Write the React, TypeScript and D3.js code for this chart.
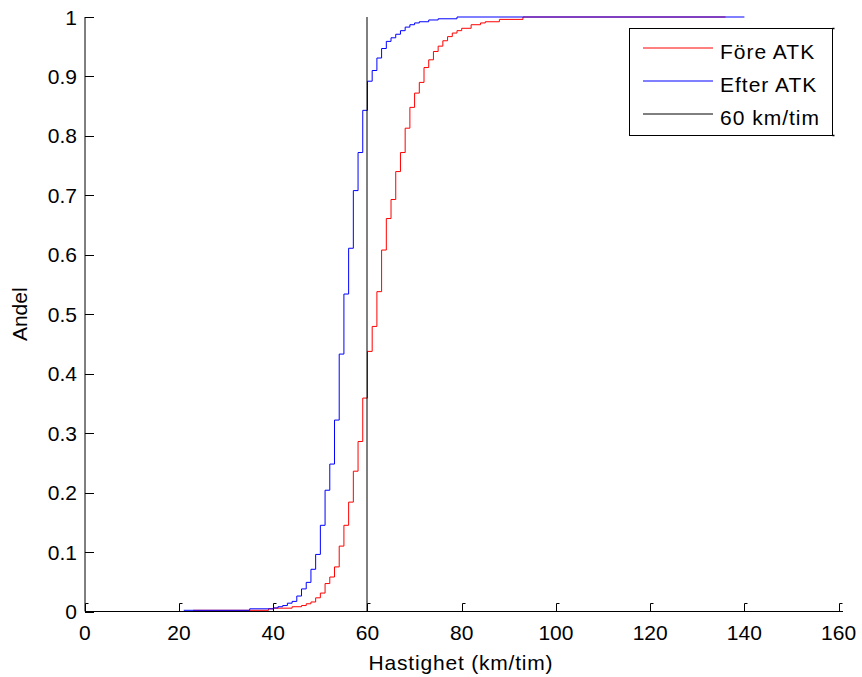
import React from 'react';
import * as d3 from 'd3';

const W = 862;
const H = 677;

const xTicks = [0, 20, 40, 60, 80, 100, 120, 140, 160];
const yTicks = [0, 0.1, 0.2, 0.3, 0.4, 0.5, 0.6, 0.7, 0.8, 0.9, 1];
const yTickLabels = ['0', '0.1', '0.2', '0.3', '0.4', '0.5', '0.6', '0.7', '0.8', '0.9', '1'];

// Före ATK (red) – cumulative share at each speed step
const foreSpeeds = [23, 39, 40, 44, 46, 47, 48, 49, 50, 51, 52, 53, 54, 55, 56, 57, 58, 59, 60, 61, 62, 63, 64, 65, 66, 67, 68, 69, 70, 71, 72, 73, 74, 75, 76, 77, 78, 79, 80, 82, 84, 85, 88, 93, 136];
const foreShare = [0.002, 0.0045, 0.0056, 0.008, 0.010, 0.013, 0.016, 0.023, 0.031, 0.047, 0.058, 0.075, 0.110, 0.145, 0.184, 0.236, 0.286, 0.359, 0.4375, 0.4795, 0.538, 0.608, 0.661, 0.693, 0.740, 0.772, 0.813, 0.848, 0.872, 0.890, 0.915, 0.928, 0.942, 0.951, 0.960, 0.967, 0.973, 0.977, 0.981, 0.987, 0.990, 0.992, 0.996, 1.0, 1.0];

// Efter ATK (blue)
const efterSpeeds = [21, 35, 40, 41, 42, 43, 44, 45, 46, 47, 48, 49, 50, 51, 52, 53, 54, 55, 56, 57, 58, 59, 60, 61, 62, 63, 64, 65, 66, 67, 68, 69, 70, 71, 73, 75, 79, 140];
const efterShare = [0.002, 0.0045, 0.006, 0.008, 0.010, 0.014, 0.017, 0.026, 0.038, 0.049, 0.071, 0.096, 0.145, 0.204, 0.248, 0.322, 0.433, 0.534, 0.611, 0.708, 0.772, 0.843, 0.892, 0.910, 0.931, 0.947, 0.959, 0.965, 0.971, 0.977, 0.983, 0.987, 0.990, 0.992, 0.995, 0.997, 1.0, 1.0];

const limitSpeed = 60;
const legendLabels = ['Före ATK', 'Efter ATK', '60 km/tim'];
const legendColors = ['#ff0000', '#0000ff', '#000000'];

const FONT = 'Liberation Sans, Arial, Helvetica, sans-serif';
const FS = 21;

export default function App() {
  const x = d3.scaleLinear().domain([0, 160]).range([84.8, 838.6]);
  const y = d3.scaleLinear().domain([0, 1]).range([611.5, 17]);

  const line = d3
    .line<[number, number]>()
    .x((d) => x(d[0]))
    .y((d) => y(d[1]))
    .curve(d3.curveStepAfter);

  const foreData: [number, number][] = foreSpeeds.map((s, i) => [s, foreShare[i]]);
  const efterData: [number, number][] = efterSpeeds.map((s, i) => [s, efterShare[i]]);

  const axX = Math.round(x(0));
  const limX = Math.round(x(limitSpeed));
  const baseY = 611.5;

  const legX = 629.5;
  const legY = 28.5;
  const legW = 203;
  const legH = 107;

  return (
    <svg
      width={W}
      height={H}
      style={{ position: 'absolute', left: 0, top: 0, background: '#fff' }}
      fontFamily={FONT}
    >
      <rect x={0} y={0} width={W} height={H} fill="#fff" />

      {/* data */}
      <path d={line(foreData) || ''} fill="none" stroke="#ff0000" strokeWidth={1} />
      <path d={line(efterData) || ''} fill="none" stroke="#0000ff" strokeWidth={1} />
      <line x1={limX} x2={limX} y1={y(0)} y2={y(1)} stroke="#000" strokeWidth={1} />

      {/* axes */}
      <line x1={axX} x2={axX} y1={y(1)} y2={baseY} stroke="#000" strokeWidth={1} />
      <line x1={axX} x2={843} y1={baseY} y2={baseY} stroke="#000" strokeWidth={1} />

      {xTicks.map((t) => {
        const xt = Math.round(x(t)) + 0.5;
        return (
          <g key={'xt' + t}>
            <path d={`M${xt},${baseY} V${baseY - 8} H${xt + 3}`} fill="none" stroke="#000" strokeWidth={1} />
            <text x={x(t)} y={640} textAnchor="middle" fontSize={FS} fill="#000">
              {t}
            </text>
          </g>
        );
      })}

      {yTicks.map((t, i) => {
        const yt = Math.round(y(t)) + 0.5;
        return (
          <g key={'yt' + t}>
            <path d={`M${axX},${yt} H${axX + 9}`} fill="none" stroke="#000" strokeWidth={1} />
            <text x={77} y={y(t)} dy="0.36em" textAnchor="end" fontSize={FS} fill="#000">
              {yTickLabels[i]}
            </text>
          </g>
        );
      })}

      <text x={461} y={670} textAnchor="middle" fontSize={FS} letterSpacing={0.8} fill="#000">
        Hastighet (km/tim)
      </text>
      <text
        transform={`translate(27, ${(y(0) + y(1)) / 2}) rotate(-90)`}
        textAnchor="middle"
        fontSize={FS}
        fill="#000"
      >
        Andel
      </text>

      {/* legend */}
      <rect x={legX} y={legY} width={legW} height={legH} fill="#fff" stroke="#000" strokeWidth={1} />
      <path
        d={`M${legX + legW},${legY} h2 M${legX + legW},${legY + legH} h2`}
        stroke="#000"
        strokeWidth={1.5}
      />
      {legendLabels.map((lab, i) => {
        const ly = 48 + i * 33;
        return (
          <g key={lab}>
            <line x1={643} x2={713} y1={ly} y2={ly} stroke={legendColors[i]} strokeWidth={1} />
            <text x={720} y={ly + 10.5} fontSize={FS} letterSpacing={1} fill="#000">
              {lab}
            </text>
          </g>
        );
      })}
    </svg>
  );
}
